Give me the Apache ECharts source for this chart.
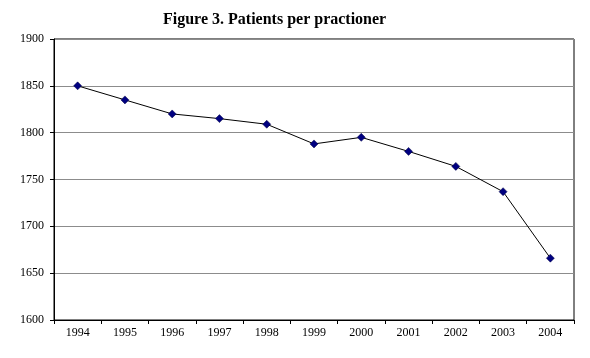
<!DOCTYPE html>
<html>
<head>
<meta charset="utf-8">
<script src="https://cdn.jsdelivr.net/npm/echarts@6/dist/echarts.min.js"></script>
<style>html,body{margin:0;padding:0;background:#fff}#c{width:590px;height:358px}</style>
</head>
<body>
<div id="c"></div>
<script>
var titleText = 'Figure 3. Patients per practioner';
var years = ['1994','1995','1996','1997','1998','1999','2000','2001','2002','2003','2004'];
var patients = [1850, 1835, 1820, 1815, 1809, 1788, 1795, 1780, 1764, 1737, 1666];
var yMin = 1600, yMax = 1900, yStep = 50;

var chart = echarts.init(document.getElementById('c'), null, {renderer: 'canvas'});
chart.setOption({
  animation: false,
  backgroundColor: '#fff',
  title: {
    text: titleText,
    left: 158, top: 7,
    textStyle: {fontFamily: 'Liberation Serif', fontWeight: 'bold', fontSize: 16, color: '#000'}
  },
  grid: {left: 54, right: 16, top: 39, bottom: 38, show: true, borderColor: '#000', borderWidth: 1, backgroundColor: 'transparent'},
  xAxis: {
    type: 'category', data: years, boundaryGap: true,
    axisLine: {lineStyle: {color: '#000', width: 1}},
    axisTick: {show: true, alignWithLabel: false, length: 4, lineStyle: {color: '#000'}},
    axisLabel: {color: '#000', fontFamily: 'Liberation Serif', fontSize: 12, margin: 7},
    splitLine: {show: false}
  },
  yAxis: {
    type: 'value', min: yMin, max: yMax, interval: yStep,
    axisLine: {show: true, lineStyle: {color: '#000', width: 1}},
    axisTick: {show: true, length: 4, lineStyle: {color: '#000'}},
    axisLabel: {color: '#000', fontFamily: 'Liberation Serif', fontSize: 12, margin: 10,
      formatter: function (v) { return String(v); }},
    splitLine: {show: true, lineStyle: {color: '#8c8c8c', width: 1}}
  },
  series: [{
    type: 'line', data: patients,
    symbol: 'diamond', symbolSize: 8,
    itemStyle: {color: '#000080', borderColor: '#000040', borderWidth: 0.5},
    lineStyle: {color: '#000', width: 1}
  }]
});
</script>
</body>
</html>
